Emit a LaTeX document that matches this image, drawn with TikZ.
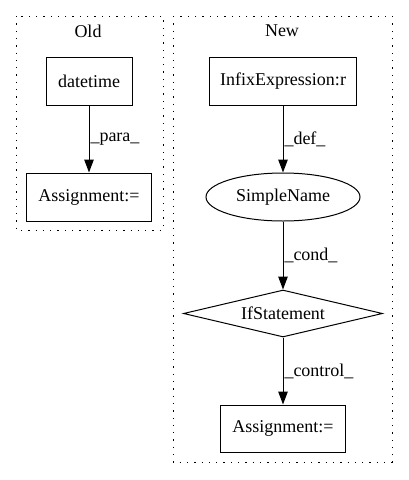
\documentclass[tikz,border=0pt]{standalone}
\usepackage{fontspec}
\setmainfont{Liberation Serif}
\usetikzlibrary{shapes.geometric,arrows.meta}
\begin{document}
\begin{tikzpicture}[x=1pt,y=-1pt,
  every node/.style={font=\fontsize{18pt}{21pt}\selectfont},
  box/.style={draw,line width=1pt,rectangle,inner sep=0pt},
  cluster/.style={draw,line width=1pt,dash pattern=on 1.3pt off 6pt},
  edge/.style={draw,line width=1pt,-{Triangle[length=13pt,width=9.5pt]}},
  elabel/.style={anchor=west,inner sep=0pt}]
\useasboundingbox (0,0) rectangle (408,480);
% clusters
\draw[cluster] (16,16) rectangle (163,230);
\draw[cluster] (173,16) rectangle (392,462);
\node (oldlbl) at (88,31) {Old};
\node (newlbl) at (282,31) {New};
% Old
\node[box,minimum width=86pt,minimum height=48pt] (dt) at (89,81) {datetime};
\node[box,minimum width=125pt,minimum height=48pt] (a1) at (89,197) {Assignment:=};
\draw[edge] (dt) -- (a1) node[elabel,midway,xshift=1pt] {\_para\_};
% New
\node[box,minimum width=147pt,minimum height=48pt] (ie) at (283,81) {InfixExpression:r};
\node[draw,line width=1pt,ellipse,minimum width=154pt,minimum height=48pt,inner sep=0pt] (sn) at (283,197) {SimpleName};
\node[draw,line width=1pt,diamond,aspect=4.2,minimum width=199pt,minimum height=47pt,inner sep=0pt] (if) at (283,313.5) {IfStatement};
\node[box,minimum width=125pt,minimum height=47pt] (a2) at (283,428.5) {Assignment:=};
\draw[edge] (ie) -- (sn) node[elabel,midway,xshift=1pt] {\_def\_};
\draw[edge] (sn) -- (if) node[elabel,midway,xshift=1pt] {\_cond\_};
\draw[edge] (if) -- (a2) node[elabel,midway,xshift=1pt] {\_control\_};
\end{tikzpicture}
\end{document}
